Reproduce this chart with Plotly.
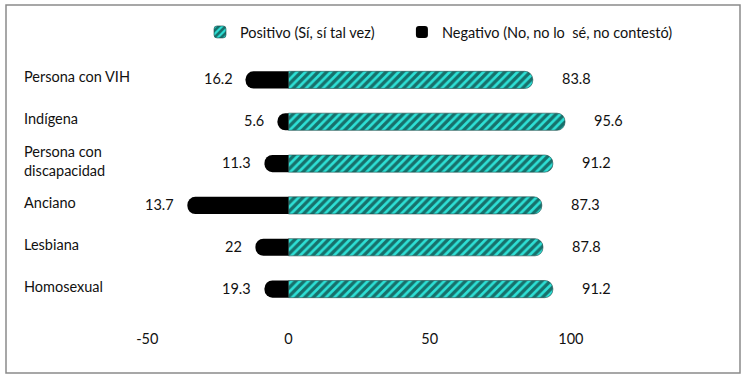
import plotly.graph_objects as go

categories = ["Persona con VIH", "Indígena", "Persona con<br>discapacidad",
              "Anciano", "Lesbiana", "Homosexual"]
positivo = [86.5, 97.9, 93.6, 89.7, 90.1, 93.6]
negativo = [-15.2, -3.9, -8.5, -35.8, -11.7, -8.5]
positivo_labels = ["83.8", "95.6", "91.2", "87.3", "87.8", "91.2"]
negativo_labels = ["16.2", "5.6", "11.3", "13.7", "22", "19.3"]
tick_vals = [-50, 0, 50, 100]
tick_text = ["-50", "0", "50", "100"]

FONT = "Lato"
FS = 14.5
TXT = "#111111"
TEAL = "#2ee0d6"
PAD = "\u00a0" * 6

fig = go.Figure()
fig.add_trace(go.Bar(
    y=categories, x=positivo, orientation="h",
    name="Positivo (Sí, sí tal vez)" + PAD,
    marker=dict(color=TEAL,
                pattern=dict(shape="/", fgcolor="#000000", bgcolor=TEAL,
                             size=6, solidity=0.55),
                line=dict(width=0.6, color="#1a4a48")),
))
fig.add_trace(go.Bar(
    y=categories, x=negativo, orientation="h",
    name="Negativo (No, no lo  sé, no contestó)",
    marker=dict(color="#000000", line=dict(width=0)),
))

L, R, T, B = 119, 698, 59, 310
W, H = 747, 381

annotations = []
for cat, v, lab in zip(categories, positivo, positivo_labels):
    annotations.append(dict(x=v, y=cat, xref="x", yref="y", text=lab,
                            showarrow=False, xanchor="left", xshift=27, yshift=1,
                            font=dict(family=FONT, size=FS, color=TXT)))
for cat, v, lab in zip(categories, negativo, negativo_labels):
    annotations.append(dict(x=v, y=cat, xref="x", yref="y", text=lab,
                            showarrow=False, xanchor="right", xshift=-11, yshift=1,
                            font=dict(family=FONT, size=FS, color=TXT)))
for cat in categories:
    annotations.append(dict(x=(22 - L) / (R - L), y=cat, xref="paper", yref="y",
                            text=cat, showarrow=False, xanchor="left", align="left",
                            yshift=3,
                            font=dict(family=FONT, size=FS, color=TXT)))

fig.update_layout(
    width=W, height=H,
    margin=dict(l=L, r=W - R, t=T, b=H - B, pad=0, autoexpand=False),
    paper_bgcolor="white", plot_bgcolor="white",
    barmode="relative", bargap=0.59, barcornerradius=8,
    font=dict(family=FONT, size=FS, color=TXT),
    showlegend=True,
    legend=dict(orientation="h", x=(200 - L) / (R - L), xanchor="left",
                y=(B - 32) / (B - T), yanchor="middle",
                font=dict(family=FONT, size=FS, color=TXT),
                traceorder="normal", bgcolor="rgba(0,0,0,0)"),
    xaxis=dict(range=[-60, 145], tickvals=tick_vals, ticktext=tick_text,
               showgrid=False, zeroline=False, showline=False,
               ticks="", ticklabelstandoff=18,
               tickfont=dict(family=FONT, size=FS, color=TXT)),
    yaxis=dict(autorange="reversed", showticklabels=False, showgrid=False,
               zeroline=False, showline=False, ticks=""),
    annotations=annotations,
    shapes=[dict(type="rect", xref="paper", yref="paper",
                 x0=(6 - L) / (R - L), x1=(740 - L) / (R - L),
                 y0=(B - 373) / (B - T), y1=(B - 5) / (B - T),
                 line=dict(color="#8a8a8a", width=1.5), fillcolor="rgba(0,0,0,0)",
                 layer="below")],
)

fig.write_html("out.html", config={"displayModeBar": False},
               post_script="document.body.style.margin='0px';")
